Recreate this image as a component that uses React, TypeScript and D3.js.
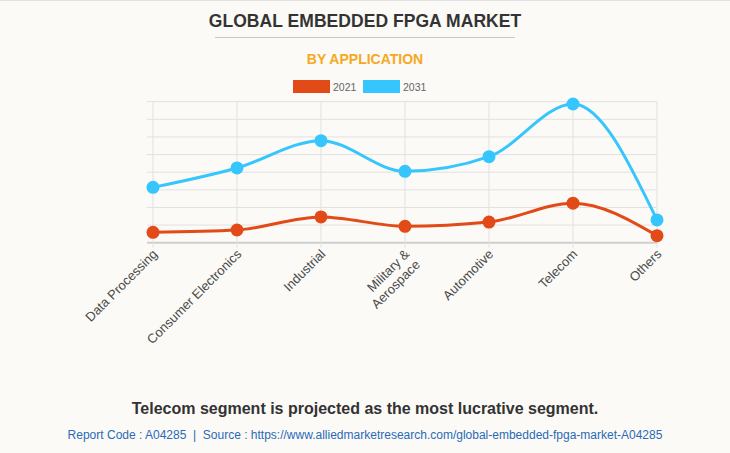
import { scaleLinear, scalePoint, line, curveMonotoneX } from 'd3';

const categories = ['Data Processing', 'Consumer Electronics', 'Industrial', 'Military & Aerospace', 'Automotive', 'Telecom', 'Others'];
const years = ['2021', '2031'];
const values2021 = [59, 72, 146, 93, 117, 224, 40];
const values2031 = [314, 424, 579, 405, 488, 787, 129];
const yTicks = [0, 100, 200, 300, 400, 500, 600, 700, 800];
const colors = ['#e24a17', '#35c6fd'];

const W = 730;
const H = 453;
const margin = { top: 101.7, right: 73, bottom: 210.3, left: 153 };

export default function App() {
  const x = scalePoint<string>().domain(categories).range([margin.left, W - margin.right]);
  const y = scaleLinear().domain([0, 800]).range([H - margin.bottom, margin.top]);
  const series = [values2021, values2031];
  const path = line<number>()
    .x((_, i) => x(categories[i]) as number)
    .y((d) => y(d))
    .curve(curveMonotoneX);

  const x0 = margin.left - 6;
  const x1 = W - margin.right;
  const yBottom = y(0);

  return (
    <svg width={W} height={H} style={{ position: 'absolute', left: 0, top: 0, background: '#fbfaf6' }}
      fontFamily="'Liberation Sans', Arial, sans-serif">
      <rect x={0} y={0} width={W} height={H} fill="#fbfaf6" />
      <line x1={0} x2={W} y1={0.5} y2={0.5} stroke="#e2e2e2" />

      <text x={365} y={27} textAnchor="middle" fontSize={17.5} fontWeight="bold" fill="#333" letterSpacing={0.05}>
        GLOBAL EMBEDDED FPGA MARKET
      </text>
      <line x1={215} x2={515} y1={37.5} y2={37.5} stroke="#c8c8c8" />
      <text x={365} y={64} textAnchor="middle" fontSize={14} fontWeight="bold" fill="#f7a823">
        BY APPLICATION
      </text>

      {/* legend */}
      {years.map((yr, i) => (
        <g key={yr} transform={`translate(${293 + i * 70},80)`}>
          <rect width={37} height={13} fill={colors[i]} />
          <text x={40} y={10.5} fontSize={10.5} fill="#666">{yr}</text>
        </g>
      ))}

      {/* grid */}
      {yTicks.map((t) => (
        <line key={t} x1={x0} x2={x1} y1={y(t)} y2={y(t)} stroke={t === 0 ? '#cfcfcf' : '#e1e1e1'} strokeWidth={t === 0 ? 2 : 1} />
      ))}
      {categories.map((c) => (
        <line key={c} x1={x(c)} x2={x(c)} y1={margin.top} y2={yBottom + 5} stroke="#e1e1e1" />
      ))}

      {/* lines */}
      {series.map((s, i) => (
        <g key={years[i]}>
          <path d={path(s) || ''} fill="none" stroke={colors[i]} strokeWidth={3} />
          {s.map((v, j) => (
            <circle key={j} cx={x(categories[j])} cy={y(v)} r={6.5} fill={colors[i]} />
          ))}
        </g>
      ))}

      {/* x labels */}
      {categories.map((c) => {
        const parts = c === 'Military & Aerospace' ? ['Military &', 'Aerospace'] : [c];
        return (
          <text key={c} transform={`translate(${(x(c) as number) + 2},${yBottom + 9}) rotate(-45)`}
            textAnchor="end" fontSize={13} fill="#4a4a4a">
            {parts.map((p, k) => (
              <tspan key={k} x={0} dy={k === 0 ? '0.35em' : '1.15em'}>{p}</tspan>
            ))}
          </text>
        );
      })}

      <text x={365} y={414} textAnchor="middle" fontSize={16} fontWeight="bold" fill="#333">
        Telecom segment is projected as the most lucrative segment.
      </text>
      <text x={365} y={439} textAnchor="middle" fontSize={12} fill="#2a6ab8" style={{ whiteSpace: 'pre' }}>
        {'Report Code : A04285  |  Source : https://www.alliedmarketresearch.com/global-embedded-fpga-market-A04285'}
      </text>
    </svg>
  );
}
